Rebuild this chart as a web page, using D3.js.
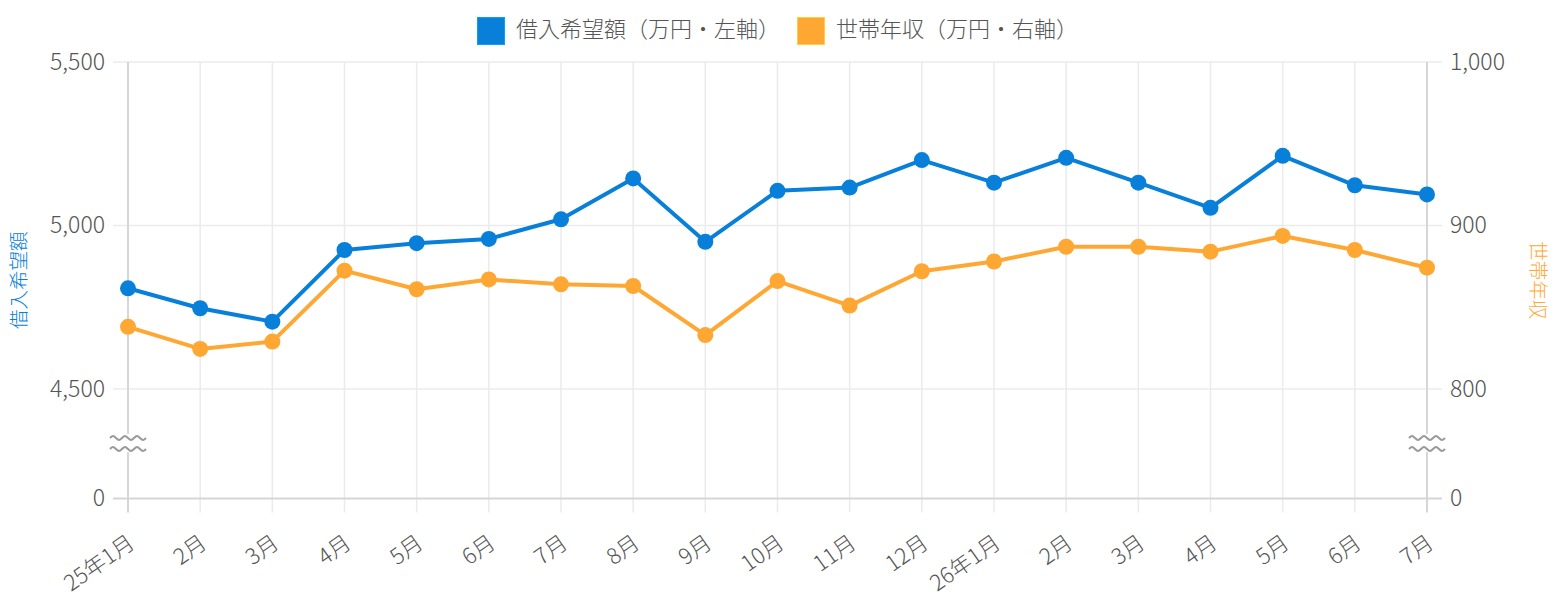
<!DOCTYPE html>
<html>
<head>
<meta charset="utf-8">
<script src="https://cdn.jsdelivr.net/npm/d3@7"></script>
<style>
  body { margin: 0; background: #fff; }
  svg { display: block; font-family: "Noto Sans CJK JP", "Noto Sans", sans-serif; }
</style>
</head>
<body>
<div id="chart"></div>
<script>
// Data
const months = ["25年1月", "2月", "3月", "4月", "5月", "6月", "7月", "8月", "9月", "10月",
  "11月", "12月", "26年1月", "2月", "3月", "4月", "5月", "6月", "7月"];
const loanWanted = [4808, 4747, 4706, 4925, 4946, 4959, 5019, 5144, 4950, 5106,
  5116, 5200, 5131, 5207, 5131, 5054, 5213, 5123, 5095];      // 万円, left axis
const householdIncome = [838, 824.5, 829, 872.4, 861, 867, 864, 863, 833, 866,
  851, 872, 878, 887, 887, 884, 893.6, 885, 874.2];           // 万円, right axis
const leftTicks = [0, 4500, 5000, 5500];
const rightTicks = [0, 800, 900, 1000];
const seriesNames = ["借入希望額（万円・左軸）", "世帯年収（万円・右軸）"];
const axisTitles = ["借入希望額", "世帯年収"];

// Dimensions
const width = 1556;
const height = 600;
const plotL = 128, plotR = 1427, plotT = 62, plotB = 498.5;
const blue = "#0880d9";
const orange = "#ffa733";
const gridColor = "#ebebeb";
const axisColor = "#d6d6d6";
const textColor = "#555";
const font = "\"Noto Sans CJK JP\", sans-serif";

const svg = d3.create("svg")
    .attr("width", width)
    .attr("height", height)
    .attr("viewBox", [0, 0, width, height]);

// x scale, indexed because month names repeat
const x = d3.scalePoint()
    .domain(d3.range(months.length))
    .range([plotL, plotR]);

// broken y scales: 0 sits below the break, the rest is linear
const yL = d3.scaleLinear()
    .domain([0, 4500, 5500])
    .range([plotB, 389, plotT]);
const yR = d3.scaleLinear()
    .domain([0, 800, 1000])
    .range([plotB, 389, plotT]);

// vertical grid (with tick stubs below the zero line)
svg.append("g")
    .selectAll("line")
    .data(x.domain().slice(1, -1))
    .join("line")
    .attr("x1", d => x(d)).attr("x2", d => x(d))
    .attr("y1", plotT).attr("y2", plotB + 14)
    .attr("stroke", gridColor)
    .attr("stroke-width", 1.5);

// horizontal grid
svg.append("g")
    .selectAll("line")
    .data(leftTicks)
    .join("line")
    .attr("x1", plotL - 15).attr("x2", plotR + 15)
    .attr("y1", d => yL(d)).attr("y2", d => yL(d))
    .attr("stroke", d => d === 0 ? axisColor : gridColor)
    .attr("stroke-width", d => d === 0 ? 2 : 1.5);

// axis lines
[plotL, plotR].forEach(ax => {
  svg.append("line")
      .attr("x1", ax).attr("x2", ax)
      .attr("y1", plotT).attr("y2", plotB + 14)
      .attr("stroke", axisColor)
      .attr("stroke-width", 2);
});

// y axes (labels only, the lines are drawn above)
const leftAxis = svg.append("g")
    .attr("transform", `translate(${plotL - 15},0)`)
    .call(d3.axisLeft(yL).tickValues(leftTicks).tickFormat(d3.format(",")).tickSize(0).tickPadding(8));
const rightAxis = svg.append("g")
    .attr("transform", `translate(${plotR + 15},0)`)
    .call(d3.axisRight(yR).tickValues(rightTicks).tickFormat(d3.format(",")).tickSize(0).tickPadding(8));
[leftAxis, rightAxis].forEach(g => {
  g.select(".domain").remove();
  g.selectAll("text")
      .attr("fill", textColor)
      .style("font-size", "23px")
      .style("font-weight", 300)
      .style("font-family", font);
});

// x axis labels, rotated
const xAxis = svg.append("g")
    .attr("transform", `translate(0,${plotB})`)
    .call(d3.axisBottom(x).tickFormat(i => months[i]).tickSize(0));
xAxis.select(".domain").remove();
xAxis.selectAll("text")
    .attr("fill", textColor)
    .attr("text-anchor", "end")
    .attr("dy", null)
    .attr("y", null)
    .attr("dominant-baseline", "middle")
    .attr("transform", "translate(4,43) rotate(-35)")
    .style("font-size", "22px")
    .style("font-weight", 300)
    .style("font-family", font);

// axis break marks
const wave = d3.line().curve(d3.curveBasis);
const wavePts = d3.range(-18, 19, 3).map((dx, i) => [dx, (i % 4 === 1) ? -3 : (i % 4 === 3 ? 3 : 0)]);
[plotL, plotR].forEach(ax => {
  const g = svg.append("g").attr("transform", `translate(${ax},443)`);
  g.append("rect")
      .attr("x", -19).attr("y", -9).attr("width", 38).attr("height", 18)
      .attr("fill", "#fff");
  [-5, 6].forEach(oy => {
    g.append("path")
        .attr("d", wave(wavePts.map(p => [p[0], p[1] + oy])))
        .attr("fill", "none")
        .attr("stroke", "#9a9a9a")
        .attr("stroke-width", 2);
  });
});

// lines and points
const series = [
  {values: loanWanted, y: yL, color: blue},
  {values: householdIncome, y: yR, color: orange}
];
series.slice().reverse().forEach(s => {
  svg.append("path")
      .datum(s.values)
      .attr("fill", "none")
      .attr("stroke", s.color)
      .attr("stroke-width", 4)
      .attr("stroke-linejoin", "round")
      .attr("d", d3.line().x((d, i) => x(i)).y(d => s.y(d)));
  svg.append("g")
      .selectAll("circle")
      .data(s.values)
      .join("circle")
      .attr("cx", (d, i) => x(i))
      .attr("cy", d => s.y(d))
      .attr("r", 8)
      .attr("fill", s.color);
});

// axis titles
svg.append("text")
    .attr("transform", `translate(21,${(plotT + plotB) / 2}) rotate(-90)`)
    .attr("text-anchor", "middle")
    .attr("dominant-baseline", "middle")
    .attr("fill", blue)
    .style("font-size", "19.5px")
    .style("font-weight", 300)
    .text(axisTitles[0]);
svg.append("text")
    .attr("transform", `translate(1536,${(plotT + plotB) / 2}) rotate(90)`)
    .attr("text-anchor", "middle")
    .attr("dominant-baseline", "middle")
    .attr("fill", orange)
    .style("font-size", "19.5px")
    .style("font-weight", 300)
    .text(axisTitles[1]);

// legend
const legend = svg.append("g").attr("transform", "translate(477,17)");
const legendX = [0, 320];
[blue, orange].forEach((c, i) => {
  const item = legend.append("g").attr("transform", `translate(${legendX[i]},0)`);
  item.append("rect")
      .attr("x", 0.5).attr("y", 0.5)
      .attr("width", 27).attr("height", 27)
      .attr("fill", c)
      .attr("stroke", d3.color(c).brighter(0.6))
      .attr("stroke-width", 1);
  item.append("text")
      .attr("x", 39).attr("y", 14)
      .attr("dominant-baseline", "middle")
      .attr("fill", textColor)
      .style("font-size", "22px")
      .style("font-weight", 300)
      .text(seriesNames[i]);
});

d3.select("#chart").node().appendChild(svg.node());
</script>
</body>
</html>
